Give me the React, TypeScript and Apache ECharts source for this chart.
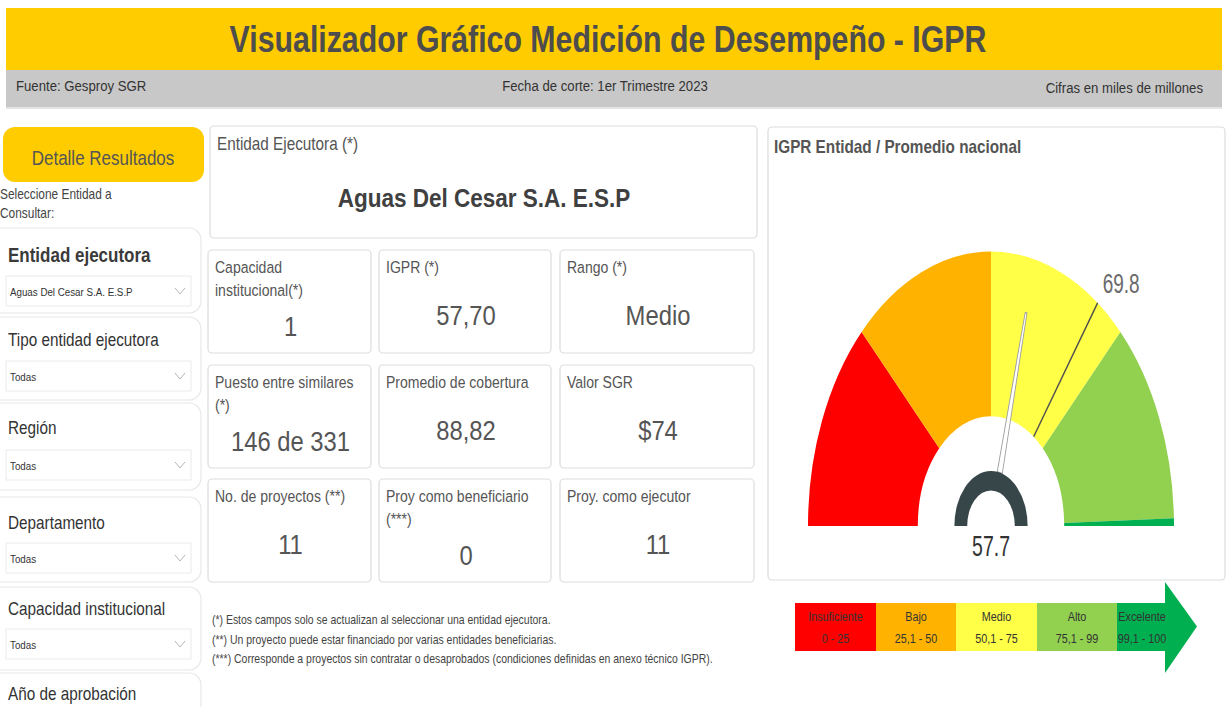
import React, { useEffect, useRef } from 'react';
import * as echarts from 'echarts';

// ---------- data ----------
const bandStops = [0, 25, 50, 75, 99.1, 100];
const bandNames = ['Insuficiente', 'Bajo', 'Medio', 'Alto', 'Excelente'];
const bandRanges = ['0 - 25', '25,1 - 50', '50,1 - 75', '75,1 - 99', '99,1 - 100'];
const bandColors = ['#FF0000', '#FFB300', '#FFFF47', '#92D050', '#00B050'];
const entityIGPR = 57.7;
const nationalIGPR = 69.8;

const titleText = 'Visualizador Gráfico Medición de Desempeño - IGPR';
const headerTexts = ['Fuente: Gesproy SGR', 'Fecha de corte: 1er Trimestre 2023', 'Cifras en miles de millones'];
const slicerTitles = ['Entidad ejecutora', 'Tipo entidad ejecutora', 'Región', 'Departamento', 'Capacidad institucional', 'Año de aprobación'];
const slicerValues = ['Aguas Del Cesar S.A. E.S.P', 'Todas', 'Todas', 'Todas', 'Todas', ''];
const entityName = 'Aguas Del Cesar S.A. E.S.P';
const metricLabels = [
  ['Capacidad', 'institucional(*)'], ['IGPR (*)'], ['Rango (*)'],
  ['Puesto entre similares', '(*)'], ['Promedio de cobertura'], ['Valor SGR'],
  ['No. de proyectos (**)'], ['Proy como beneficiario', '(***)'], ['Proy. como ejecutor'],
];
const metricValues = ['1', '57,70', 'Medio', '146 de 331', '88,82', '$74', '11', '0', '11'];
const footnotes = [
  '(*) Estos campos solo se actualizan al seleccionar una entidad ejecutora.',
  '(**) Un proyecto puede estar financiado por varias entidades beneficiarias.',
  '(***) Corresponde a proyectos sin contratar o desaprobados (condiciones definidas en anexo técnico IGPR).',
];

// ---------- helpers ----------
const FONT = '"Liberation Sans", Arial, sans-serif';
const SX = 0.85;

const T = (x: number, y: number, text: string, size: number, color: string, o: any = {}) => ({
  type: 'text',
  x,
  y,
  scaleX: o.sx ?? SX,
  z: 10,
  style: {
    text,
    fontSize: size,
    fontFamily: FONT,
    fontWeight: o.bold ? 'bold' : 'normal',
    fill: color,
    textAlign: o.align || 'left',
    textVerticalAlign: 'middle',
    verticalAlign: 'middle',
  },
});

const R = (x: number, y: number, w: number, h: number, fill: string, stroke: string | null, r = 0, lw = 1) => ({
  type: 'rect',
  z: 1,
  shape: { x, y, width: w, height: h, r },
  style: { fill, stroke: stroke || 'none', lineWidth: lw },
});

function buildGraphics() {
  const g: any[] = [];
  // header
  g.push(R(6, 8, 1216, 62, '#FFCC00', null));
  g.push(R(6, 70, 1216, 37, '#C8C8C8', null));
  g.push(R(6, 107, 1216, 2, '#E4E4E4', null));
  g.push(T(608, 39, titleText, 36.5, '#4D4D4D', { bold: true, align: 'center', sx: 0.83 }));
  g.push(T(16, 86, headerTexts[0], 15.5, '#333', {}));
  g.push(T(605, 86, headerTexts[1], 15.5, '#333', { align: 'center' }));
  g.push(T(1203, 88, headerTexts[2], 15.5, '#333', { align: 'right' }));

  // left panel
  g.push(R(3, 127, 201, 55, '#FFCC00', null, 12));
  g.push(T(103, 158, 'Detalle Resultados', 20, '#555', { align: 'center' }));
  g.push(T(0, 194, 'Seleccione Entidad a', 14, '#444'));
  g.push(T(0, 213, 'Consultar:', 14, '#444'));
  const tops = [228, 317, 403, 497, 587, 673];
  const bottoms = [313, 400, 490, 582, 670, 730];
  const titleY = [255, 340, 428, 523, 609, 694];
  const boxY = [276, 361, 450, 543, 629, 0];
  slicerTitles.forEach((t, i) => {
    const top = tops[i];
    g.push(R(-14, top, 215, bottoms[i] - top, '#fff', '#E8E8E8', 12, 1.2));
    g.push(T(8, titleY[i], t, i === 0 ? 20 : 18, i === 0 ? '#3A3A3A' : '#333', { bold: i === 0 }));
    if (slicerValues[i]) {
      const by = boxY[i];
      g.push(R(6, by, 185, 30, '#fff', '#EAEAEA', 0, 1));
      g.push(T(10, by + 16, slicerValues[i], 11.5, '#333'));
      g.push({
        type: 'polyline', z: 11,
        shape: { points: [[175, by + 12], [180, by + 18], [185, by + 12]] },
        style: { stroke: '#B5B5B5', lineWidth: 1, fill: 'none' },
      });
    }
  });

  // entity card
  g.push(R(210, 126, 547, 112, '#fff', '#DDDDDD', 4, 1.2));
  g.push(T(217, 144, 'Entidad Ejecutora (*)', 18, '#555'));
  g.push(T(484, 198, entityName, 26.5, '#404040', { bold: true, align: 'center' }));

  // metric cards
  const rowTops = [250, 365, 479];
  const colX = [208, 379, 560];
  const colW = [163, 172, 194];
  metricLabels.forEach((lab, i) => {
    const r = Math.floor(i / 3);
    const c = i % 3;
    const x = colX[c];
    const y = rowTops[r];
    g.push(R(x, y, colW[c], 103, '#fff', '#DDDDDD', 4, 1.2));
    lab.forEach((l, k) => g.push(T(x + 7, y + 17 + k * 23, l, 16.5, '#555')));
    g.push(T(x + colW[c] / 2 + 1, y + 65 + (lab.length > 1 ? 11 : 0), metricValues[i], 28, '#555', { align: 'center' }));
  });

  // footnotes
  footnotes.forEach((f, i) => g.push(T(212, 620 + i * 19.5, f, 12.3, '#444')));

  // gauge card
  g.push({ ...R(768, 127, 457, 453, '#fff', '#DDDDDD', 4, 1.2), z: 0 });
  g.push(T(774, 147, 'IGPR Entidad / Promedio nacional', 18, '#555', { bold: true }));

  // legend arrow
  const lx = [795, 876, 956, 1037, 1117, 1167];
  g.push({
    type: 'polygon', z: 2,
    shape: { points: [[1165, 582], [1197, 626.5], [1165, 673]] },
    style: { fill: bandColors[4] },
  });
  bandNames.forEach((n, i) => {
    g.push({ ...R(lx[i], 603, lx[i + 1] - lx[i] + (i === 4 ? 1 : 0), 48, bandColors[i], null), z: 3 });
    const cx = (lx[i] + lx[i + 1]) / 2;
    g.push(T(cx, 617, n, 13.5, '#333', { align: 'center', sx: 0.8 }));
    g.push(T(cx, 639, bandRanges[i], 13.5, '#333', { align: 'center', sx: 0.8 }));
  });
  return g;
}

const SY = 1.5;
const INNER = 40;
const OUTER = 100;

function angleOf(p: number[], cx: number, cy: number) {
  let a = Math.atan2(p[1] - cy, p[0] - cx);
  if (a < 0) a += 2 * Math.PI;
  if (a < Math.PI / 2) a += 2 * Math.PI;
  return a;
}

export default function App() {
  const ref = useRef<HTMLDivElement>(null);
  useEffect(() => {
    if (!ref.current) return;
    const chart = echarts.init(ref.current, null, { renderer: 'svg' });
    const option: any = {
      animation: false,
      backgroundColor: '#fff',
      polar: { center: [991, 526], radius: [0, 183] },
      angleAxis: { type: 'value', min: 0, max: 100, startAngle: 180, endAngle: 0, clockwise: true, show: false },
      radiusAxis: { type: 'value', min: 0, max: 100, show: false },
      graphic: { elements: buildGraphics() },
      series: [
        {
          type: 'custom',
          coordinateSystem: 'polar',
          z: 5,
          data: bandColors.map((c, i) => ({ value: [bandStops[i], bandStops[i + 1], INNER, OUTER], itemStyle: { color: c } })),
          renderItem: (params: any, api: any) => {
            const cs = params.coordSys;
            const cx = cs.cx, cy = cs.cy;
            const s = api.value(0), e = api.value(1);
            const p0 = api.coord([api.value(2), s]);
            const p1 = api.coord([api.value(3), s]);
            const r0 = Math.hypot(p0[0] - cx, p0[1] - cy);
            const r = Math.hypot(p1[0] - cx, p1[1] - cy);
            return {
              type: 'group', originX: cx, originY: cy, scaleY: SY,
              children: [{
                type: 'sector',
                shape: { cx, cy, r0, r, startAngle: angleOf(api.coord([OUTER, s]), cx, cy), endAngle: angleOf(api.coord([OUTER, e]), cx, cy), clockwise: true },
                style: { fill: api.visual('color') },
              }],
            };
          },
        },
        {
          type: 'custom',
          coordinateSystem: 'polar',
          z: 6,
          data: [[nationalIGPR]],
          renderItem: (params: any, api: any) => {
            const cs = params.coordSys;
            const v = api.value(0);
            const a = api.coord([INNER, v]);
            const b = api.coord([OUTER, v]);
            return {
              type: 'group', originX: cs.cx, originY: cs.cy, scaleY: SY,
              children: [
                { type: 'line', shape: { x1: a[0], y1: a[1], x2: b[0], y2: b[1] }, style: { stroke: '#505050', lineWidth: 1.3 } },
                { type: 'text', x: b[0] + 5, y: b[1] - 13, style: { text: v.toFixed(1), fontSize: 19, fontFamily: FONT, fill: '#6A6A6A', textAlign: 'left', textVerticalAlign: 'middle', verticalAlign: 'middle' } },
              ],
            };
          },
        },
        {
          type: 'custom',
          coordinateSystem: 'polar',
          z: 7,
          data: [[entityIGPR]],
          renderItem: (params: any, api: any) => {
            const cs = params.coordSys;
            const cx = cs.cx, cy = cs.cy;
            const v = api.value(0);
            const base = api.coord([20, v]);
            const tip = api.coord([80, v]);
            const dx = tip[0] - base[0], dy = tip[1] - base[1];
            const len = Math.hypot(dx, dy);
            const nx = -dy / len, ny = dx / len;
            const hub0 = api.coord([13, 0]);
            const hub1 = api.coord([20, 0]);
            const hr0 = Math.hypot(hub0[0] - cx, hub0[1] - cy);
            const hr = Math.hypot(hub1[0] - cx, hub1[1] - cy);
            return {
              type: 'group', originX: cx, originY: cy, scaleY: SY,
              children: [
                {
                  type: 'polygon',
                  shape: { points: [
                    [base[0] + nx * 2.6, base[1] + ny * 2.6],
                    [tip[0] + nx * 0.9, tip[1] + ny * 0.9],
                    [tip[0] - nx * 0.9, tip[1] - ny * 0.9],
                    [base[0] - nx * 2.6, base[1] - ny * 2.6],
                  ] },
                  style: { fill: '#FFFFFF', stroke: '#A0A0A0', lineWidth: 0.9 },
                },
                {
                  type: 'sector',
                  shape: { cx, cy, r0: hr0, r: hr, startAngle: Math.PI, endAngle: 2 * Math.PI, clockwise: true },
                  style: { fill: '#374649' },
                },
                { type: 'text', x: cx, y: cy + 13.5, style: { text: v.toFixed(1), fontSize: 19.5, fontFamily: FONT, fill: '#333', textAlign: 'center', textVerticalAlign: 'middle', verticalAlign: 'middle' } },
              ],
            };
          },
        },
      ],
    };
    chart.setOption(option);
    return () => chart.dispose();
  }, []);
  return <div ref={ref} style={{ position: 'absolute', left: 0, top: 0, width: 1228, height: 707 }} />;
}
